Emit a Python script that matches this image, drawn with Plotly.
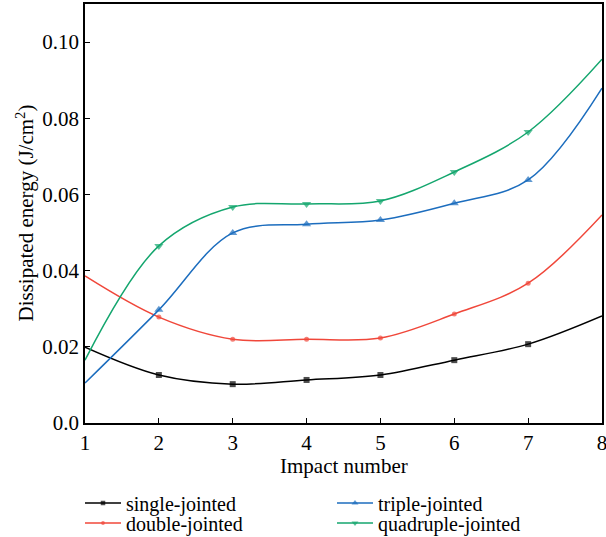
import plotly.graph_objects as go

impacts = [1, 2, 3, 4, 5, 6, 7, 8]
single_jointed = [0.0199, 0.0126, 0.0102, 0.0113, 0.0126, 0.0165, 0.0207, 0.0281]
double_jointed = [0.0386, 0.0278, 0.0220, 0.0220, 0.0223, 0.0286, 0.0367, 0.0546]
triple_jointed = [0.0105, 0.0297, 0.0499, 0.0522, 0.0533, 0.0577, 0.0638, 0.0879]
quadruple_jointed = [0.0165, 0.0465, 0.0567, 0.0575, 0.0583, 0.0659, 0.0764, 0.0955]

y_ticks = [0.0, 0.02, 0.04, 0.06, 0.08, 0.10]
y_tick_text = ["0.0", "0.02", "0.04", "0.06", "0.08", "0.10"]

x_title = "Impact number"
y_title = "Dissipated energy (J/cm<sup>2</sup>)"

FONT = "Liberation Serif"
FS = 21
LEG_FS = 20
W, H = 606, 537
M_L, M_R, M_T, M_B = 85, 4, 4, 114
PLOT_W, PLOT_H = W - M_L - M_R, H - M_T - M_B

# name, values, colour, marker symbol, marker size, legend slot (x px, y px)
series = [
    ("single-jointed", single_jointed, "#000000", "square", 6, (80, 503)),
    ("double-jointed", double_jointed, "#F0473A", "circle", 5, (80, 523)),
    ("triple-jointed", triple_jointed, "#1C6DBE", "triangle-up", 8, (332, 503)),
    ("quadruple-jointed", quadruple_jointed, "#14A66E", "triangle-down", 8, (332, 523)),
]

fig = go.Figure()
legends = {}
for i, (name, vals, color, symbol, size, (lx, ly)) in enumerate(series):
    key = "legend" if i == 0 else f"legend{i + 1}"
    # markers only on interior impacts; the end points show the line alone
    sizes = [0] + [size] * (len(impacts) - 2) + [0]
    fig.add_trace(go.Scatter(
        x=impacts, y=vals, name=name, legend=key, showlegend=True,
        mode="lines+markers",
        line=dict(color=color, width=1.5, shape="spline", smoothing=1.0),
        marker=dict(symbol=symbol, size=sizes, color=color, line=dict(width=0)),
    ))
    legends[key] = dict(
        x=lx / W, y=1 - ly / H, xref="container", yref="container",
        xanchor="left", yanchor="middle",
        font=dict(family=FONT, size=LEG_FS, color="#000000"),
        bgcolor="rgba(0,0,0,0)", itemwidth=36,
        itemsizing="trace",
    )

axis_common = dict(
    showline=True, linecolor="#000000", linewidth=1.5, mirror=True,
    ticks="inside", ticklen=5, tickwidth=1.2, tickcolor="#000000",
    showgrid=False, zeroline=False, automargin=False,
    ticklabeloverflow="allow",
    tickfont=dict(family=FONT, size=FS, color="#000000"),
)

fig.update_layout(
    width=W, height=H,
    margin=dict(l=M_L, r=M_R, t=M_T, b=M_B, autoexpand=False),
    showlegend=True,
    paper_bgcolor="white", plot_bgcolor="white",
    font=dict(family=FONT, size=FS, color="#000000"),
    xaxis=dict(range=[1, 8], tickvals=impacts, **axis_common),
    yaxis=dict(range=[0, 0.11], tickvals=y_ticks, ticktext=y_tick_text, **axis_common),
    annotations=[
        dict(text=x_title, xref="paper", yref="paper",
             x=0.5, y=-43 / PLOT_H, xanchor="center", yanchor="middle",
             showarrow=False, font=dict(family=FONT, size=FS, color="#000000")),
        dict(text=y_title, xref="paper", yref="paper", textangle=-90,
             x=-(M_L - 25) / PLOT_W, y=0.5, xanchor="center", yanchor="middle",
             showarrow=False, font=dict(family=FONT, size=FS, color="#000000")),
    ],
    **legends,
)

fig.write_html("out.html")
